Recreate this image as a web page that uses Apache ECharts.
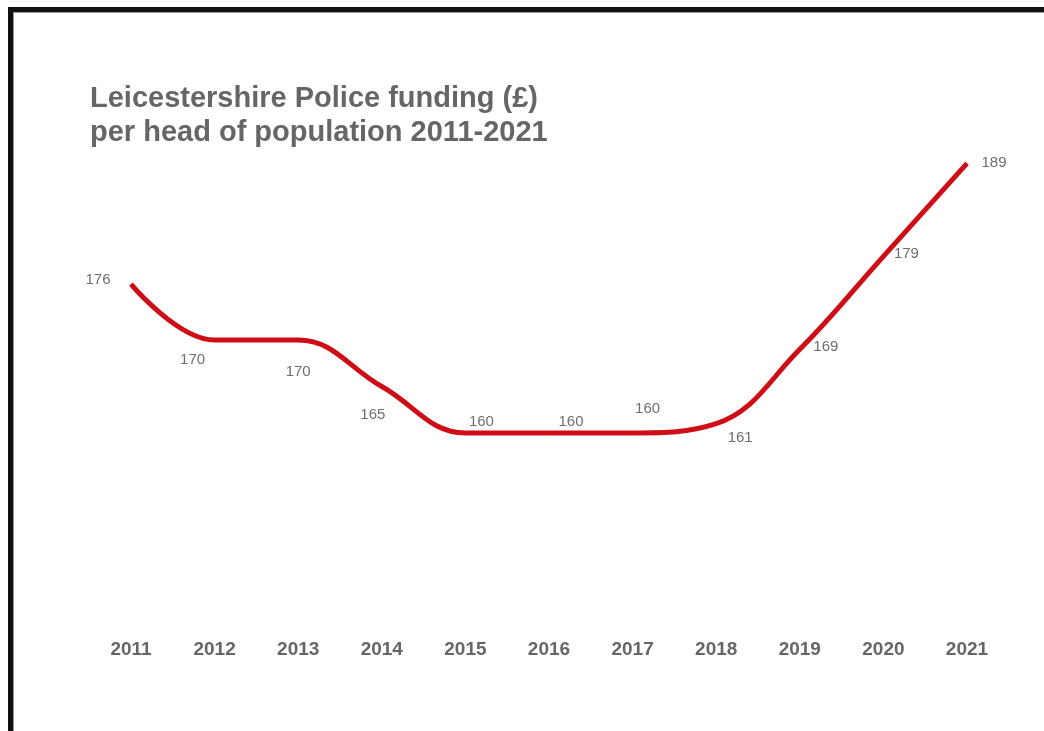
<!DOCTYPE html>
<html>
<head>
<meta charset="utf-8">
<title>Leicestershire Police funding per head</title>
<script src="https://cdn.jsdelivr.net/npm/echarts@6/dist/echarts.min.js"></script>
<style>
    html, body { margin: 0; padding: 0; background: #fff; }
    #wrap { position: relative; width: 1044px; height: 731px; overflow: hidden; }
    #frame {
        position: absolute; left: 8px; top: 7px; right: -10px; bottom: -10px;
        border-top: 5px solid #111; border-left: 5px solid #111;
        box-shadow: inset 1px 1px 0 #999;
        pointer-events: none; z-index: 2;
    }
    #chart { position: absolute; left: 0; top: 0; width: 1044px; height: 731px; }
</style>
</head>
<body>
<div id="wrap">
    <div id="chart"></div>
    <div id="frame"></div>
</div>
<script>
var years = ['2011', '2012', '2013', '2014', '2015', '2016', '2017', '2018', '2019', '2020', '2021'];
var funding = [176, 170, 170, 165, 160, 160, 160, 161, 169, 179, 189];

// where each value label sits relative to its point (px)
var labelOffsets = [[-33, -4], [-22, 20], [0, 32], [-9, 28], [16, -11], [22, -11],
    [15, -24], [24, 14], [26, -2], [23, -2], [27, 0]];

var seriesData = [];
for (var i = 0; i < funding.length; i++) {
    seriesData.push({
        value: funding[i],
        label: { offset: labelOffsets[i] }
    });
}

var option = {
    animation: false,
    backgroundColor: '#fff',
    title: {
        text: 'Leicestershire Police funding (£)\nper head of population 2011-2021',
        left: 85,
        top: 77,
        textStyle: {
            fontFamily: 'Liberation Sans, Arial, sans-serif',
            fontSize: 29,
            fontWeight: 'bold',
            color: '#666',
            lineHeight: 34
        }
    },
    grid: {
        left: 131,
        right: 77,
        top: 154,
        height: 465
    },
    xAxis: {
        type: 'category',
        data: years,
        boundaryGap: false,
        axisLine: { show: false },
        axisTick: { show: false },
        axisLabel: {
            margin: 21,
            fontFamily: 'Liberation Sans, Arial, sans-serif',
            fontSize: 19,
            fontWeight: 'bold',
            color: '#666'
        }
    },
    yAxis: {
        type: 'value',
        min: 140,
        max: 190,
        show: false,
        splitLine: { show: false }
    },
    series: [
        {
            type: 'line',
            data: seriesData,
            smooth: 0.4,
            symbol: 'circle',
            symbolSize: 1,
            lineStyle: { color: '#cf0d17', width: 5 },
            itemStyle: { color: '#cf0d17' },
            label: {
                show: true,
                position: 'inside',
                align: 'center',
                verticalAlign: 'middle',
                fontFamily: 'Liberation Sans, Arial, sans-serif',
                fontSize: 15,
                color: '#6e6e6e'
            }
        }
    ]
};

var chart = echarts.init(document.getElementById('chart'));
chart.setOption(option);
</script>
</body>
</html>
